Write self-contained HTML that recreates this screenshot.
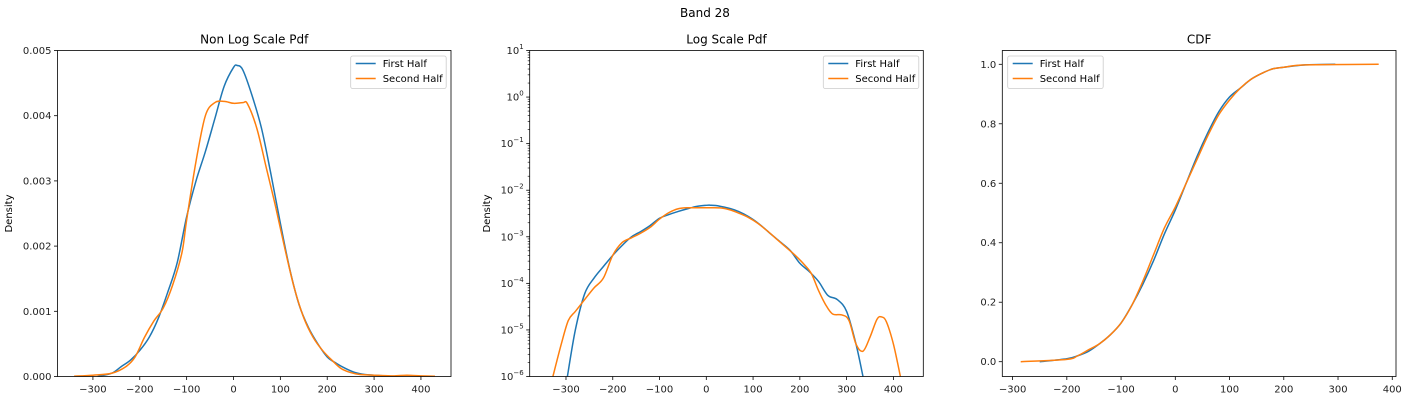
<!DOCTYPE html>
<html><head><meta charset="utf-8"><style>
body{margin:0;background:#fff;}
svg{font-family:"DejaVu Sans","Liberation Sans",sans-serif;}
</style></head><body>
<svg id="fig" width="1408" height="400" viewBox="0 0 1408 400">
<text x="705" y="17" font-size="12" text-anchor="middle">Band 28</text>
</svg>
<script>
// Panel 1: non-log pdf (density in units of 1e-3)
const pdfFirstX=[-290,-260,-240,-220,-200,-180,-160,-140,-120,-100,-80,-60,-40,-20,0,8,20,40,60,80,100,120,140,160,180,200,220,240,260,280,300,320,340];
const pdfFirstY=[0,0.05,0.15,0.25,0.4,0.6,0.9,1.3,1.75,2.45,3.0,3.45,3.95,4.45,4.74,4.77,4.7,4.3,3.8,3.1,2.35,1.65,1.1,0.75,0.5,0.3,0.2,0.12,0.06,0.03,0.02,0.01,0.003];
const pdfSecondX=[-340,-300,-260,-230,-210,-190,-170,-150,-130,-110,-100,-80,-60,-40,-20,0,20,30,50,70,90,110,130,150,170,190,210,230,250,270,300,340,370,400,430];
const pdfSecondY=[0.005,0.02,0.05,0.15,0.3,0.6,0.85,1.05,1.4,1.9,2.4,3.3,4.0,4.2,4.22,4.19,4.2,4.18,3.8,3.2,2.6,1.95,1.35,0.9,0.6,0.4,0.25,0.12,0.06,0.03,0.02,0.01,0.02,0.01,0.003];
const pdfYTicks=["0.000","0.001","0.002","0.003","0.004","0.005"];
// Panel 2: log pdf
const logFirstX=[-297,-280,-260,-240,-220,-200,-180,-160,-140,-120,-100,-80,-60,-40,-20,0,8,20,40,60,80,100,120,140,160,180,200,220,240,260,280,300,320,335];
const logFirstY=[1e-6,1e-5,6e-5,1.3e-4,2.3e-4,4e-4,6.5e-4,1e-3,1.3e-3,1.75e-3,2.5e-3,3e-3,3.5e-3,4e-3,4.5e-3,4.74e-3,4.77e-3,4.7e-3,4.3e-3,3.8e-3,3.1e-3,2.35e-3,1.65e-3,1.1e-3,7.5e-4,5e-4,2.7e-4,1.8e-4,1.1e-4,5.5e-5,4.5e-5,2.5e-5,5e-6,1e-6];
const logSecondX=[-328,-310,-295,-280,-260,-240,-220,-200,-180,-160,-140,-120,-100,-80,-60,-40,0,30,50,70,90,110,130,150,170,190,210,225,240,255,270,290,305,320,335,350,365,375,385,400,415];
const logSecondY=[1e-6,5e-6,1.6e-5,2.5e-5,4.5e-5,8e-5,1.3e-4,4e-4,7.5e-4,9.5e-4,1.2e-3,1.6e-3,2.4e-3,3.3e-3,4e-3,4.2e-3,4.2e-3,4.18e-3,3.8e-3,3.2e-3,2.6e-3,1.95e-3,1.35e-3,9e-4,6e-4,4e-4,2.5e-4,1.6e-4,7e-5,3.5e-5,2.2e-5,2.1e-5,1.6e-5,5e-6,3.5e-6,7e-6,1.7e-5,1.9e-5,1.5e-5,5e-6,1e-6];
const logYExp=[-6,-5,-4,-3,-2,-1,0,1];
// Panel 3: CDF
const cdfFirstX=[-250,-200,-180,-160,-140,-120,-100,-80,-60,-40,-20,0,20,40,60,80,100,120,140,160,180,200,240,295];
const cdfFirstY=[0,0.01,0.02,0.035,0.06,0.09,0.13,0.19,0.26,0.34,0.43,0.51,0.6,0.69,0.77,0.84,0.89,0.92,0.95,0.97,0.985,0.99,0.998,1.0];
const cdfSecondX=[-285,-200,-180,-160,-140,-120,-100,-80,-60,-40,-20,0,20,40,60,80,100,120,140,160,180,200,240,375];
const cdfSecondY=[0,0.008,0.02,0.04,0.06,0.09,0.13,0.19,0.27,0.36,0.45,0.52,0.6,0.68,0.76,0.83,0.88,0.92,0.95,0.97,0.985,0.99,0.998,1.0];
const cdfYTicks=[0,0.2,0.4,0.6,0.8,1.0];
const xTicks=[-300,-200,-100,0,100,200,300,400];

const NS="http://www.w3.org/2000/svg";
const svg=document.getElementById('fig');
function el(tag,attrs,parent){const e=document.createElementNS(NS,tag);for(const k in attrs)e.setAttribute(k,attrs[k]);(parent||svg).appendChild(e);return e;}
function smooth(pts){let d="M"+pts[0][0].toFixed(2)+","+pts[0][1].toFixed(2);
 for(let i=0;i<pts.length-1;i++){const p0=pts[Math.max(0,i-1)],p1=pts[i],p2=pts[i+1],p3=pts[Math.min(pts.length-1,i+2)];
 const c1=[p1[0]+(p2[0]-p0[0])/6,p1[1]+(p2[1]-p0[1])/6],c2=[p2[0]-(p3[0]-p1[0])/6,p2[1]-(p3[1]-p1[1])/6];
 d+="C"+c1[0].toFixed(2)+","+c1[1].toFixed(2)+" "+c2[0].toFixed(2)+","+c2[1].toFixed(2)+" "+p2[0].toFixed(2)+","+p2[1].toFixed(2);}return d;}
const BLUE="#1f77b4",ORANGE="#ff7f0e";

function panel(id,L,R,T,B,xAt,yAt,title,series,legendX,ylabel){
 const g=el('g',{});
 
 
 const cp=el('clipPath',{id:'clip-'+id},g);el('rect',{x:L,y:T,width:R-L,height:B-T},cp);
 const tt=el('text',{x:(L+R)/2,y:T-7,'font-size':12,'text-anchor':'middle'},g);tt.textContent=title;
 
 
 xTicks.forEach(v=>{const x=xAt(v);if(x<L||x>R)return;el('line',{x1:x,x2:x,y1:B,y2:B+3.5,stroke:'#000','stroke-width':0.8},g);
  const t=el('text',{x:x,y:B+16,'font-size':10,'text-anchor':'middle',fill:'#222'},g);t.textContent=(v<0?'\u2212'+(-v):v);
  
  });
 if(ylabel){
  const t=el('text',{x:0,y:0,'font-size':10,'text-anchor':'middle',transform:`translate(${ylabel},${(T+B)/2}) rotate(-90)`},g);t.textContent='Density';
  
  }
 series.forEach(s=>{const pts=s.x.map((v,i)=>[xAt(v),yAt(s.y[i])]);
  const p=el('path',{d:smooth(pts),fill:'none',stroke:s.c,'stroke-width':1.5,'clip-path':`url(#clip-${id})`},g);
  
  });
 el('rect',{x:L,y:T,width:R-L,height:B-T,fill:'none',stroke:'#000','stroke-width':0.8},g);
 const lg=el('g',{},g);
 
 
 el('rect',{x:legendX,y:T+5.5,width:95.5,height:32.5,rx:2,fill:'#fff','fill-opacity':0.8,stroke:'#ccc','stroke-width':0.8},lg);
 [['First Half',BLUE],['Second Half',ORANGE]].forEach((e,i)=>{const y=T+13+i*15;
  el('line',{x1:legendX+5,x2:legendX+25,y1:y,y2:y,stroke:e[1],'stroke-width':1.5},lg);
  const t=el('text',{x:legendX+32,y:y+3.5,'font-size':10},lg);t.textContent=e[0];
  
  });
 return g;
}

// Panel 1
{const L=57.5,R=451,T=50.5,B=376.5;const xAt=v=>233.5+v*0.4686;const yAt=v=>B-v/5*(B-T);
 const g=panel('pdf-panel',L,R,T,B,xAt,yAt,'Non Log Scale Pdf',[{x:pdfFirstX,y:pdfFirstY,c:BLUE,name:'first-half-line'},{x:pdfSecondX,y:pdfSecondY,c:ORANGE,name:'second-half-line'}],350.7,12);
 pdfYTicks.forEach((s,i)=>{const y=yAt(i);el('line',{x1:L-3.5,x2:L,y1:y,y2:y,stroke:'#000','stroke-width':0.8},g);
  const t=el('text',{x:L-6,y:y+3.5,'font-size':10,'text-anchor':'end',fill:'#222'},g);t.textContent=s;
  
  });}
// Panel 2
{const L=529.7,R=923.3,T=50.5,B=376.5;const xAt=v=>706.3+v*0.4677;const yAt=v=>B-(Math.log10(v)+6)/7*(B-T);
 const g=panel('log-pdf-panel',L,R,T,B,xAt,yAt,'Log Scale Pdf',[{x:logFirstX,y:logFirstY,c:BLUE,name:'first-half-line'},{x:logSecondX,y:logSecondY,c:ORANGE,name:'second-half-line'}],823.3,490);
 logYExp.forEach(e=>{const y=yAt(Math.pow(10,e));el('line',{x1:L-3.5,x2:L,y1:y,y2:y,stroke:'#000','stroke-width':0.8},g);
  if(e<1)for(let m=2;m<10;m++){const ym=yAt(m*Math.pow(10,e));el('line',{x1:L-2,x2:L,y1:ym,y2:ym,stroke:'#000','stroke-width':0.6},g);}
  const t=el('text',{x:L-6,y:y+3.5,'font-size':10,'text-anchor':'end',fill:'#222'},g);
  
  
  const a=el('tspan',{},t);a.textContent='10';const b=el('tspan',{dy:-5,'font-size':7},t);b.textContent=(e<0?'\u2212'+(-e):e);});}
// Panel 3
{const L=1002.3,R=1396,T=50.5,B=376.5;const xAt=v=>1175.3+v*0.5424;const yAt=v=>361.7-v*(361.7-64.3);
 const g=panel('cdf-panel',L,R,T,B,xAt,yAt,'CDF',[{x:cdfFirstX,y:cdfFirstY,c:BLUE,name:'first-half-line'},{x:cdfSecondX,y:cdfSecondY,c:ORANGE,name:'second-half-line'}],1007.7,null);
 cdfYTicks.forEach(v=>{const y=yAt(v);el('line',{x1:L-3.5,x2:L,y1:y,y2:y,stroke:'#000','stroke-width':0.8},g);
  const t=el('text',{x:L-6,y:y+3.5,'font-size':10,'text-anchor':'end',fill:'#222'},g);t.textContent=v.toFixed(1);
  
  });}
</script>
</body></html>
